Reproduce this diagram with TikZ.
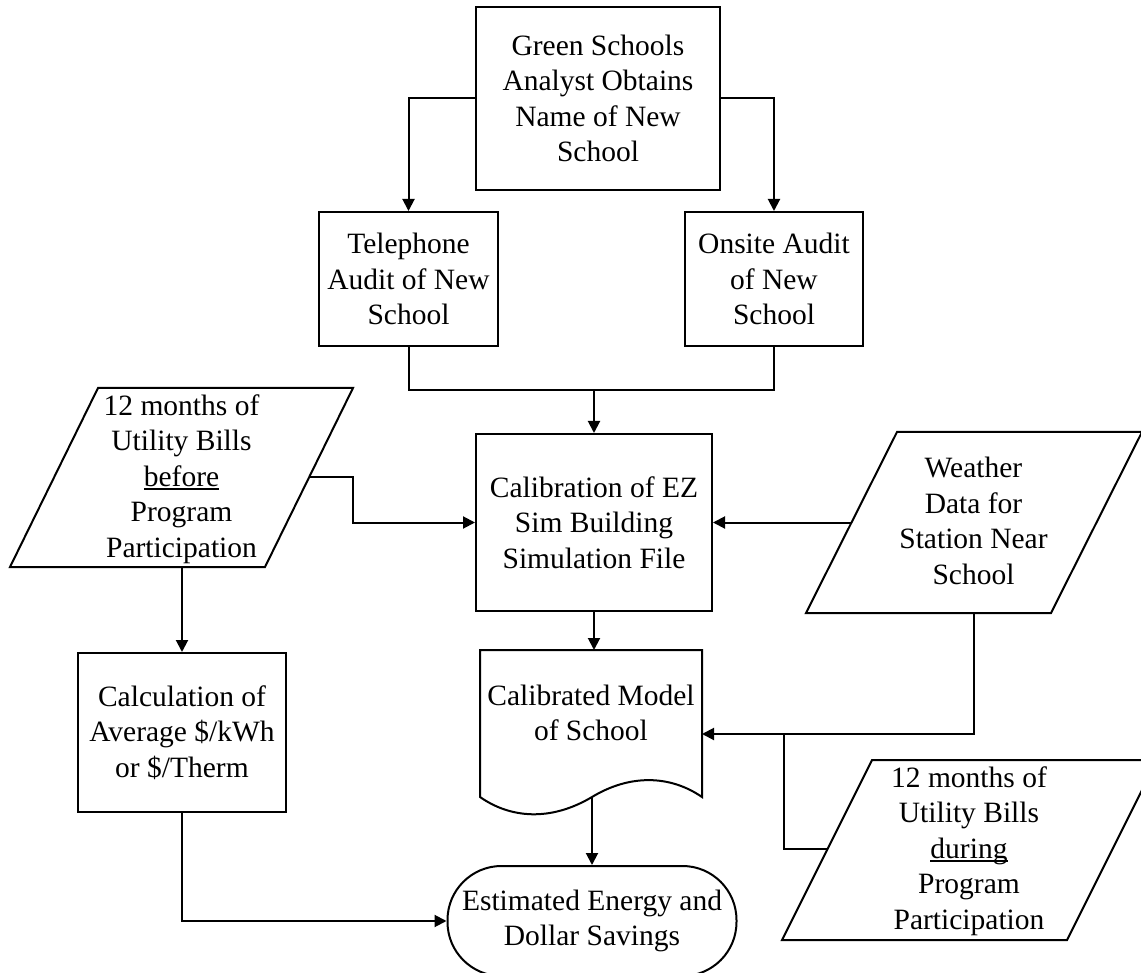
\documentclass[tikz,border=0pt]{standalone}
\usepackage{fontspec}
\setmainfont{Liberation Serif}
\usetikzlibrary{arrows.meta}

% underline at a fixed distance below the baseline
\newcommand\ulword[1]{\setbox0=\hbox{#1}\rlap{\rule[-3.6pt]{\wd0}{1.4pt}}\box0}

\begin{document}
\begin{tikzpicture}[x=1pt,y=-1pt,
  line width=2pt,
  every node/.style={font=\fontsize{29.5}{35.5}\selectfont, align=center, inner sep=0pt},
  procbox/.style={draw, rectangle},
  arr/.style={-{Triangle[length=12pt,width=12pt]}},
]
\useasboundingbox (0,0) rectangle (1141,973);
\clip (0,0) rectangle (1141,973);

% process boxes
\node[procbox, minimum width=244pt, minimum height=183pt] (top) at (598,98.5)
  {Green Schools\\Analyst Obtains\\Name of New\\School};
\node[procbox, minimum width=179pt, minimum height=134pt] (tel) at (408.5,279)
  {Telephone\\Audit of New\\School};
\node[procbox, minimum width=178pt, minimum height=134pt] (onsite) at (774,279)
  {Onsite Audit\\of New\\School};
\node[procbox, minimum width=236pt, minimum height=177pt] (calib) at (594,522.5)
  {Calibration of EZ\\Sim Building\\Simulation File};
\node[procbox, minimum width=208pt, minimum height=159pt] (calc) at (182,732.5)
  {Calculation of\\Average \$/kWh\\or \$/Therm};

% terminator, running off the lower edge
\node[draw, rounded corners=54pt, minimum width=289pt, minimum height=110pt] (term) at (592,921)
  {Estimated Energy and\\Dollar Savings};

% document shape
\draw (480,650) -- (702,650) -- (702,797)
  .. controls (670,775) and (630,774) .. (592,797)
  .. controls (550,822) and (510,818) .. (480,797) -- cycle;
\node (model) at (591,713) {Calibrated Model\\of School};
\coordinate (mtop) at (594,650);
\coordinate (mbot) at (592,797);
\coordinate (mright) at (702,734);

% data (parallelogram) shapes
\draw (98,388) -- (353,388) -- (265,567) -- (10,567) -- cycle;
\node (bills1) at (181.5,479)
  {12 months of\\Utility Bills\\\ulword{before}\\Program\\Participation};
\coordinate (b1out) at (310,477);
\coordinate (b1bot) at (182,567);

\draw (897,432) -- (1142,432) -- (1051,613) -- (806,613) -- cycle;
\node (weather) at (973.5,521)
  {Weather\\Data for\\Station Near\\School};
\coordinate (wleft) at (851.8,522.5);
\coordinate (wbot) at (974,613);

\draw (872,760) -- (1157,760) -- (1067,940) -- (782,940) -- cycle;
\node (bills2) at (969,851)
  {12 months of\\Utility Bills\\\ulword{during}\\Program\\Participation};
\coordinate (b2left) at (827.5,849);

% connectors
\coordinate (join) at (594,390);
\coordinate (jn) at (784,734);

\draw[arr] (top.west) -| (tel.north);
\draw[arr] (top.east) -| (onsite.north);
\draw (tel.south) |- (join) -| (onsite.south);
\draw[arr] (join) -- (calib.north);
\draw[arr] (b1out) -- ++(43,0) |- (calib.west);
\draw[arr] (wleft) -- (calib.east);
\draw[arr] (b1bot) -- (calc.north);
\draw[arr] (calib.south) -- (mtop);
\draw[arr] (wbot) |- (mright);
\draw (b2left) -| (jn);
\draw[arr] (mbot) -- (term.north);
\draw[arr] (calc.south) |- (term.west);
\end{tikzpicture}
\end{document}
